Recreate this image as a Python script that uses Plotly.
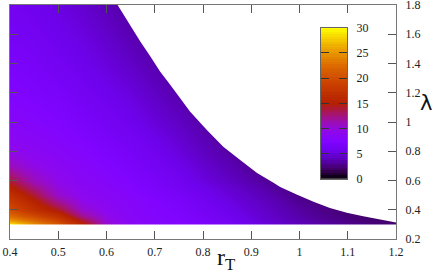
import plotly.graph_objects as go

r_t = [0.40, 0.425, 0.45, 0.50, 0.55, 0.60, 0.65, 0.70, 0.75, 0.80, 0.85, 0.90, 0.95, 1.00, 1.05, 1.10, 1.15, 1.20]
lam = [0.30, 0.31, 0.33, 0.36, 0.40, 0.45, 0.50, 0.55, 0.60, 0.70, 0.80, 0.90, 1.00, 1.20, 1.40, 1.60, 1.80]
# rows follow lam (bottom to top), columns follow r_t
kappa = [
 [30.0, 27.0, 25.0, 21.0, 16.0, 10.5, 8.6, 7.9, 7.6, 7.2, 6.5, 5.7, 4.8, 4.1, 3.5, 3.0, 2.6, 2.2],
 [28.0, 26.0, 24.0, 20.5, 15.2, 10.2, 8.5, 7.9, 7.6, 7.1, 6.4, 5.5, 4.7, 3.9, 3.3, 2.8, 2.4, 2.1],
 [25.0, 23.5, 22.0, 19.0, 14.0, 9.8, 8.4, 7.9, 7.5, 6.9, 6.2, 5.3, 4.5, 3.7, 3.1, 2.6, 2.2, 2.0],
 [22.5, 21.0, 19.8, 17.0, 12.2, 9.4, 8.3, 7.8, 7.4, 6.7, 6.0, 5.1, 4.3, 3.5, 2.9, 2.4, 2.0, 2.0],
 [20.0, 18.5, 17.0, 14.5, 10.5, 9.0, 8.2, 7.7, 7.2, 6.5, 5.7, 4.9, 4.1, 3.3, 2.7, 2.2, 2.0, 2.0],
 [18.5, 17.0, 15.5, 12.2, 9.6, 8.7, 8.1, 7.6, 7.0, 6.2, 5.4, 4.6, 3.8, 3.0, 2.5, 2.1, 2.0, 2.0],
 [17.0, 15.5, 14.0, 10.5, 9.0, 8.5, 7.9, 7.3, 6.7, 5.9, 5.1, 4.3, 3.5, 2.7, 2.3, 2.0, 2.0, 2.0],
 [15.5, 14.0, 12.5, 9.9, 8.8, 8.2, 7.7, 7.0, 6.4, 5.6, 4.8, 4.0, 3.2, 2.5, 2.1, 2.0, 2.0, 2.0],
 [14.0, 12.5, 11.0, 9.4, 8.5, 8.0, 7.5, 6.8, 6.1, 5.2, 4.4, 3.6, 2.9, 2.3, 2.0, 2.0, 2.0, 2.0],
 [11.0, 10.2, 9.5, 8.8, 8.2, 7.6, 7.0, 6.3, 5.6, 4.7, 3.9, 3.1, 2.5, 2.1, 2.0, 2.0, 2.0, 2.0],
 [9.5, 9.1, 8.8, 8.3, 7.8, 7.2, 6.6, 5.9, 5.1, 4.2, 3.4, 2.8, 2.3, 2.0, 2.0, 2.0, 2.0, 2.0],
 [8.8, 8.5, 8.3, 7.9, 7.4, 6.8, 6.2, 5.5, 4.7, 3.8, 3.0, 2.5, 2.2, 2.0, 2.0, 2.0, 2.0, 2.0],
 [8.3, 8.1, 7.9, 7.5, 7.0, 6.4, 5.8, 5.0, 4.3, 3.4, 2.7, 2.3, 2.0, 2.0, 2.0, 2.0, 2.0, 2.0],
 [7.6, 7.4, 7.2, 6.9, 6.3, 5.7, 5.1, 4.3, 3.5, 2.8, 2.3, 2.0, 2.0, 2.0, 2.0, 2.0, 2.0, 2.0],
 [7.0, 6.9, 6.7, 6.2, 5.7, 5.1, 4.4, 3.6, 2.9, 2.4, 2.0, 2.0, 2.0, 2.0, 2.0, 2.0, 2.0, 2.0],
 [6.5, 6.4, 6.2, 5.7, 5.2, 4.5, 3.7, 3.0, 2.4, 2.0, 2.0, 2.0, 2.0, 2.0, 2.0, 2.0, 2.0, 2.0],
 [6.1, 6.0, 5.8, 5.3, 4.7, 3.9, 3.1, 2.5, 2.1, 2.0, 2.0, 2.0, 2.0, 2.0, 2.0, 2.0, 2.0, 2.0],
]
edge_r = [0.623, 0.646, 0.670, 0.691, 0.711, 0.732, 0.753, 0.773, 0.808, 0.842, 0.877, 0.912, 0.946, 0.960, 0.994,
          1.029, 1.063, 1.098, 1.132, 1.167, 1.20]
edge_lam = [1.80, 1.677, 1.550, 1.448, 1.345, 1.254, 1.163, 1.071, 0.945, 0.831, 0.740, 0.652, 0.584, 0.556, 0.505,
            0.455, 0.412, 0.380, 0.356, 0.333, 0.312]
floor_lam = 0.30
x_lo, x_hi, y_lo, y_hi = 0.4, 1.2, 0.2, 1.8
x_ticks = [0.4, 0.5, 0.6, 0.7, 0.8, 0.9, 1, 1.1, 1.2]
x_labels = ["0.4", "0.5", "0.6", "0.7", "0.8", "0.9", "1", "1.1", "1.2"]
y_ticks = [0.2, 0.4, 0.6, 0.8, 1.0, 1.2, 1.4, 1.6, 1.8]
y_labels = ["0.2", "0.4", "0.6", "0.8", "1", "1.2", "1.4", "1.6", "1.8"]
bar_ticks = [0, 5, 10, 15, 20, 25, 30]
bar_levels = [i * 0.5 for i in range(61)]
palette = [[0, "#000000"], [0.0625, "#400062"], [0.125, "#5a00b4"], [0.1875, "#6e02ec"], [0.25, "#8004ff"],
           [0.3125, "#8e08ec"], [0.375, "#9c0eb4"], [0.4375, "#a81562"], [0.5, "#b42000"], [0.625, "#c93e00"],
           [0.75, "#dd6b00"], [0.875, "#eeab00"], [1, "#ffff00"]]

W, H = 434, 273
L, R, T, B = 9.7, 396, 5.3, 238.7
BL, BR, BT, BB = 320.5, 347, 28, 178.7
FONT = "Liberation Serif"
def px(v): return (v - L) / (R - L)
def py(v): return (B - v) / (B - T)

fig = go.Figure()
fig.add_trace(go.Heatmap(x=r_t, y=lam, z=kappa, zsmooth="best", zmin=0, zmax=30, colorscale=palette,
                         hoverinfo="skip", showscale=False))
fig.add_trace(go.Scatter(x=edge_r + [x_hi + 0.01, x_hi + 0.01, edge_r[0]],
                         y=edge_lam + [edge_lam[-1], y_hi + 0.02, y_hi + 0.02],
                         mode="lines", line=dict(width=0), fill="toself", fillcolor="white", hoverinfo="skip", showlegend=False))
fig.add_trace(go.Scatter(x=[x_lo - 0.01, x_hi + 0.01, x_hi + 0.01, x_lo - 0.01], y=[floor_lam, floor_lam, y_lo - 0.02, y_lo - 0.02],
                         mode="lines", line=dict(width=0), fill="toself", fillcolor="white", hoverinfo="skip", showlegend=False))
fig.add_trace(go.Heatmap(x=[0, 1], y=bar_levels, z=[[v, v] for v in bar_levels], zmin=0, zmax=30, colorscale=palette,
                         hoverinfo="skip", showscale=False, xaxis="x2", yaxis="y2"))
axis_common = dict(showgrid=False, zeroline=False, showline=True, linewidth=1, automargin=False, ticklabelstandoff=6,
                   ticklabeloverflow="allow")
fig.update_layout(width=W, height=H, autosize=False, paper_bgcolor="white", plot_bgcolor="white", showlegend=False,
    margin=dict(l=L, r=W - R, t=T, b=H - B, autoexpand=False),
    font=dict(family=FONT, size=12, color="#222222"),
    xaxis=dict(range=[x_lo, x_hi], tickvals=x_ticks, ticktext=x_labels, ticks="inside", ticklen=8, tickcolor="#555555",
               linecolor="#777777", mirror="ticks", **{**axis_common, "ticklabelstandoff": 2}),
    yaxis=dict(range=[y_lo, y_hi], tickvals=y_ticks, ticktext=y_labels, side="right", ticks="inside", ticklen=8, tickcolor="#555555",
               linecolor="#777777", mirror="ticks", **axis_common),
    xaxis2=dict(domain=[px(BL), px(BR)], range=[0, 1], anchor="y2", showticklabels=False, ticks="", showline=True,
                linecolor="#666666", linewidth=1, mirror=True, showgrid=False, zeroline=False),
    yaxis2=dict(domain=[py(BB), py(BT)], range=[0, 30], anchor="x2", side="right",
                tickvals=bar_ticks, ticks="inside", ticklen=8, tickcolor="#333333", linecolor="#666666", mirror="ticks", **axis_common),
    annotations=[
        dict(text="r<sub>T</sub>", x=px(226), y=py(259), xref="paper", yref="paper", showarrow=False,
             xanchor="center", yanchor="middle", font=dict(family=FONT, size=24, color="#111111")),
        dict(text="λ", x=px(426), y=py(103), xref="paper", yref="paper", showarrow=False,
             xanchor="center", yanchor="middle", font=dict(family="DejaVu Sans", size=21, color="#111111")),
    ])
fig.write_html("out.html", post_script="document.body.style.margin='0';", config=dict(displayModeBar=False))
